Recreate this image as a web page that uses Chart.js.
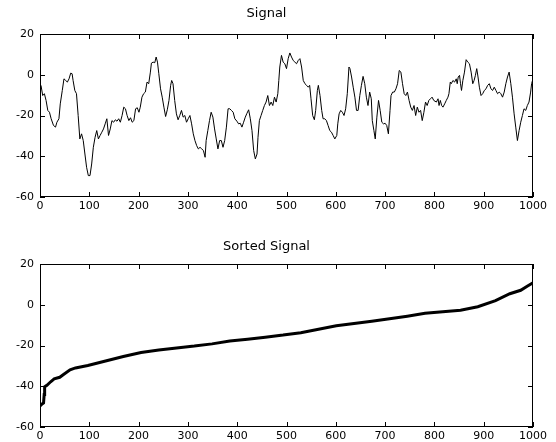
<!DOCTYPE html>
<html>
<head>
<meta charset="utf-8">
<script src="https://cdn.jsdelivr.net/npm/chart.js@4"></script>
<style>
  html, body { margin: 0; padding: 0; background: #fff; }
  .box { position: absolute; left: 0; width: 556px; height: 221px; }
</style>
</head>
<body>
<div class="box" style="top:0"><canvas id="graphSignal"></canvas></div>
<div class="box" style="top:221px"><canvas id="graphSorted"></canvas></div>
<script>
// values (sample index, value)
const signalIdx = [
  2,5.5,8.9,12.3,15.8,19.2,22.6,27.4,31.5,34.3,38.4,41.1,45.2,48.6,52.1,55.5,58.9,62.3,65.1,67.1,
  70.6,74,77.4,80.8,84.3,87.7,91.1,94.5,98,101.4,104.8,108.2,111.7,115.1,118.5,121.9,125.4,128.8,132.2,135.6,
  139,142.5,145.9,149.3,152.8,156.2,159.6,163,166.5,169.9,173.3,176.7,180.2,183.6,187,190.4,193.9,197.3,200.7,
  203.4,206.8,210.2,213.7,217.1,220.5,223.9,226,229.4,232.8,235.6,238.3,241,244.5,247.9,251.3,254.8,258.2,261.6,265,
  267.1,269.8,273.2,276.7,280.1,283.5,287,290.4,293.8,297.2,300.6,304.1,307.5,310.9,314.3,317.8,321.2,324.6,328,331.5,
  334.9,337,340.4,343.8,347.2,350.7,354.1,357.5,360.9,364.4,367.8,371.2,374.6,378.1,381.5,384.9,388.3,391.8,395.2,
  399.4,402.8,406.2,409.6,413,416.4,419.8,423.2,426.6,430,433.4,436.8,440.2,442.2,445,448.4,451.8,455.2,458.6,462,
  465.4,468.8,472.2,475.6,479,482.4,484.4,486.4,489.8,493.2,496.6,500,503.4,506.8,510.2,513.6,517,520.4,523.8,527.2,
  530.6,534,537.4,540.8,544.2,547,549.7,553.1,556.5,559.2,562.6,564.6,568,571.4,574.2,577.6,581,584.4,587.8,591.2,594.6,598,
  602,604,606.7,610,613.3,616.7,620,623.3,626.7,628.7,632,635.3,638.7,642,645.3,648.7,652,655.3,658.7,662,665.3,668.7,672,
  674,677.3,680,683.3,686.7,690,693.3,696.7,700,703.3,706.7,710,712,
  715.3,718.7,722,725.3,728.7,732,735.3,738.7,742,745.3,748.7,752,755.3,758.7,762,765.3,768.7,772,775.3,778.7,782,785.3,788.7,792,795.3,798.7,
  804,807.4,809.4,812,814.7,817.4,820.8,824.1,827.5,829.5,832.2,834.2,837.6,840.9,844.3,846.3,848.3,851,853,855,
  857.7,861,864.4,867.7,871.1,874.5,877.8,880.5,883.2,885.9,888.5,891.2,
  894.6,897.9,901.3,904.7,908,911.4,914.7,918.1,921.4,924.8,928.1,931.5,934.8,938.2,941.6,944.9,948.3,951.6,955,958.3,
  961.7,965,968.4,971.8,975.1,978.5,981.8,985.2,988.5,991.9,995.2,997.2,999
];
const signalVal = [
  -5.2,-10.2,-9.3,-12.6,-17.5,-18.4,-21.6,-24.9,-25.7,-23.3,-21.6,-14.3,-7.7,-2.0,-2.8,-3.6,-2.0,0.8,0.5,-2.8,
  -7.7,-9.3,-20.0,-31.5,-29.0,-32.3,-38.9,-45.4,-49.5,-49.5,-43.8,-35.6,-30.7,-27.4,-31.5,-29.8,-28.2,-26.6,-24.1,-21.6,
  -29.8,-26.6,-22.5,-23.3,-22.1,-22.8,-21.6,-23.3,-20.0,-15.9,-16.7,-20.0,-22.5,-21.1,-23.3,-22.5,-16.7,-16.2,-18.4,
  -15.9,-11.0,-9.3,-8.5,-3.6,-4.4,1.3,5.7,6.2,5.9,8.7,6.2,0.5,-6.9,-11.0,-15.9,-20.5,-17.2,-12.6,-5.2,
  -2.8,-4.4,-12.6,-19.2,-22.1,-20.0,-17.5,-20.8,-20.0,-23.3,-21.6,-20.0,-24.1,-29.0,-32.3,-34.8,-36.4,-35.6,-36.4,-37.2,
  -40.5,-32.3,-27.4,-22.5,-18.4,-20.8,-26.6,-31.5,-36.4,-32.3,-32.3,-35.6,-32.3,-25.7,-16.7,-16.7,-17.5,-18.4,-21.6,
  -22.8,-24.1,-23.8,-25.7,-23.3,-20.8,-18.9,-17.2,-21.6,-27.4,-37.2,-41.3,-38.9,-30.7,-22.5,-20.0,-17.5,-15.1,-13.4,-10.2,
  -15.1,-13.4,-15.1,-11.0,-13.4,-9.3,-2.8,3.8,9.5,6.2,5.4,3.0,7.9,10.7,8.7,7.0,6.2,5.4,7.0,7.9,
  3.8,-2.8,-4.4,-5.2,-6.1,-5.2,-11.8,-20.0,-22.1,-17.5,-7.7,-5.2,-10.2,-17.5,-21.6,-21.6,-22.5,-24.9,-27.4,-28.2,-29.8,-31.5,
  -29.8,-24.1,-19.2,-17.5,-18.4,-20.0,-16.7,-9.3,3.8,3.0,-1.1,-6.1,-11.0,-17.5,-17.5,-10.2,-5.2,-0.8,-4.4,-11.0,-15.1,-8.5,-11.8,
  -22.5,-27.4,-31.5,-20.8,-12.6,-17.5,-23.3,-24.1,-23.8,-24.9,-29.0,-17.5,-10.2,
  -8.5,-8.5,-6.9,-4.4,2.1,1.3,-4.4,-9.3,-10.2,-8.5,-12.6,-15.9,-17.5,-15.1,-20.0,-15.9,-18.4,-17.5,-22.5,-18.4,-13.4,-15.1,-12.6,-11.8,-11.0,-12.6,
  -13.4,-11.8,-15.1,-12.6,-15.1,-15.9,-14.3,-12.6,-11.0,-9.3,-3.6,-4.4,-2.8,-3.6,-2.0,-4.4,-1.1,-0.3,-4.4,-7.7,
  -2.8,1.3,7.4,6.2,5.4,1.3,-4.4,-2.8,-0.3,3.0,-1.1,-6.1,
  -10.2,-9.3,-7.7,-6.9,-5.2,-4.4,-6.9,-7.7,-6.1,-7.7,-9.3,-8.5,-9.3,-11.0,-8.5,-4.4,-1.1,1.3,-4.4,-11.0,
  -19.2,-25.7,-32.3,-27.4,-23.3,-20.0,-16.7,-17.5,-15.1,-13.4,-8.5,-4.4,-2.8
];

const sortedIdx = [0,3.6,7.2,8.5,9.4,14,21.6,28.8,40,47,61,72,97,133,169,205,241,277,313,349,385,421,457,493,529,565,601,637,673,709,745,781,817,853,888,924,953,975,989,1000];
const sortedVal = [-49.7,-48.8,-48.2,-44,-40.3,-39.5,-37.8,-36.4,-35.6,-34.4,-31.9,-31,-29.8,-27.6,-25.4,-23.4,-22.2,-21.2,-20.3,-19.2,-17.8,-16.9,-15.9,-14.9,-13.7,-12,-10.3,-9.2,-8.1,-6.9,-5.6,-4.2,-3.4,-2.7,-1,2,5.4,7.1,9.2,10.8];

Chart.defaults.font.family = "'DejaVu Sans', sans-serif";
Chart.defaults.font.size = 11;
Chart.defaults.color = '#000';

// box around the axes with ticks pointing inward on all four sides
const cadre = {
    id: 'cadre',
    afterDraw(chart) {
        const ctx = chart.ctx;
        const a = chart.chartArea;
        const sx = chart.scales.x, sy = chart.scales.y;
        const L = Math.round(a.left), R = Math.round(a.right) - 1;
        const T = Math.round(a.top), B = Math.round(a.bottom) - 1;
        ctx.save();
        ctx.fillStyle = '#000';
        ctx.fillRect(L, T, R - L + 1, 1);
        ctx.fillRect(L, B, R - L + 1, 1);
        ctx.fillRect(L, T, 1, B - T + 1);
        ctx.fillRect(R, T, 1, B - T + 1);
        sx.ticks.forEach(t => {
            const px = Math.round(sx.getPixelForValue(t.value));
            ctx.fillRect(px, B - 4, 1, 5);
            ctx.fillRect(px, T, 1, 5);
        });
        sy.ticks.forEach(t => {
            const py = Math.round(sy.getPixelForValue(t.value));
            ctx.fillRect(L, py, 5, 1);
            ctx.fillRect(R - 4, py, 5, 1);
        });
        ctx.restore();
    }
};

function makeChart(id, titre, xs, ys, epaisseur, titrePad, basX) {
    const points = xs.map((v, i) => ({ x: v, y: ys[i] }));
    return new Chart(document.getElementById(id).getContext('2d'), {
        type: 'line',
        data: {
            datasets: [{
                data: points,
                borderColor: '#000',
                borderWidth: epaisseur,
                pointRadius: 0,
                tension: 0,
                fill: false
            }]
        },
        options: {
            responsive: true,
            maintainAspectRatio: false,
            animation: false,
            events: [],
            layout: { padding: { top: 0, left: 0, right: 23, bottom: 0 } },
            plugins: {
                legend: { display: false },
                tooltip: { enabled: false },
                title: {
                    display: true,
                    text: titre,
                    font: { size: 13, weight: 'normal' },
                    padding: titrePad
                }
            },
            scales: {
                x: {
                    type: 'linear',
                    min: 0, max: 1000,
                    ticks: { stepSize: 100, padding: 3, maxRotation: 0, callback: v => String(v) },
                    grid: { display: false, drawTicks: false },
                    border: { display: false },
                    afterFit: s => { s.height = basX; }
                },
                y: {
                    min: -60, max: 20,
                    ticks: { stepSize: 20, padding: 6 },
                    grid: { display: false, drawTicks: false },
                    border: { display: false },
                    afterFit: s => { s.width = 40; }
                }
            }
        },
        plugins: [cadre]
    });
}

makeChart('graphSignal', 'Signal', signalIdx, signalVal, 1, { top: 6.2, bottom: 12.2 }, 24);
makeChart('graphSorted', 'Sorted Signal', sortedIdx, sortedVal, 3, { top: 18.2, bottom: 9.2 }, 15);
</script>
</body>
</html>
